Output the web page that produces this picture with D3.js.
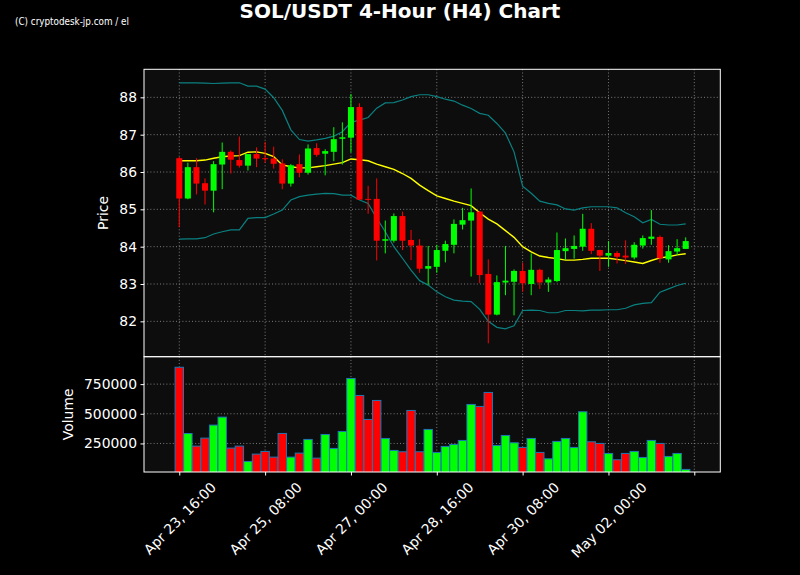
<!DOCTYPE html>
<html>
<head>
<meta charset="utf-8">
<script src="https://cdn.jsdelivr.net/npm/d3@7"></script>
<style>
  html, body { margin: 0; padding: 0; background: #000; }
  svg { display: block; }
</style>
</head>
<body>
<svg id="chart" width="800" height="575"></svg>
<script>
// ---------------- DATA ----------------
const titleText = "SOL/USDT 4-Hour (H4) Chart";
const watermark = "(C) cryptodesk-jp.com / el";

const opens = [86.37,85.29,86.13,85.70,85.50,86.20,86.54,86.32,86.17,86.48,
               86.37,86.36,86.23,85.69,86.21,85.98,86.64,86.49,86.54,86.89,
               86.92,87.74,85.28,85.28,84.16,84.16,84.82,84.18,84.03,83.41,
               83.46,83.89,84.05,84.59,84.70,84.94,83.27,82.18,83.04,83.06,
               83.35,83.00,83.38,83.04,83.08,83.88,83.94,84.00,84.48,83.91,
               83.76,83.83,83.76,83.71,84.03,84.21,84.26,83.66,83.87,83.94];
const highs = [86.40,86.25,86.37,85.83,86.29,86.79,86.58,86.95,86.48,86.66,
               86.81,86.68,86.34,86.21,86.47,86.74,86.77,86.61,87.20,87.33,
               88.09,87.84,85.63,85.83,84.70,84.89,84.94,84.45,84.20,84.02,
               84.05,84.16,84.73,85.04,85.56,84.95,83.66,83.23,84.02,83.39,
               83.57,83.82,83.41,83.18,84.38,84.22,84.30,84.88,84.63,83.92,
               84.15,83.88,84.17,84.12,84.30,84.98,84.30,84.04,84.20,84.25];
const lows  = [84.52,85.27,85.40,85.13,84.92,85.54,85.96,86.12,86.04,86.13,
               86.25,86.09,85.54,85.61,85.86,85.93,86.41,85.91,86.29,86.20,
               86.52,85.25,84.88,83.63,83.82,84.11,83.91,83.64,83.30,82.98,
               83.30,83.58,83.82,84.46,83.20,83.02,81.41,82.16,82.70,82.16,
               82.79,82.70,82.87,82.79,83.05,83.64,83.68,83.89,83.80,83.35,
               83.46,83.55,83.54,83.66,83.95,84.05,83.57,83.57,83.77,83.94];
const closes = [85.29,86.13,85.69,85.50,86.21,86.54,86.33,86.17,86.48,86.36,
                86.35,86.22,85.69,86.18,85.98,86.63,86.46,86.56,86.88,86.93,
                87.74,85.26,85.26,84.16,84.20,84.82,84.16,84.03,83.41,83.48,
                83.91,84.07,84.61,84.71,84.92,83.24,82.18,83.05,83.09,83.35,
                83.02,83.38,83.04,83.12,83.91,83.96,84.02,84.48,83.89,83.76,
                83.83,83.73,83.71,84.05,84.23,84.27,83.69,83.88,83.96,84.15];
const volumes = [892000,334000,227500,295000,404500,472000,210700,227500,98300,160100,
                 182600,134800,334300,134800,168500,283700,126400,325800,207900,351100,
                 797800,654500,452200,612400,292100,191000,179800,528100,179800,368000,
                 174200,224700,241600,275300,578700,561800,679800,233100,317400,255600,
                 216300,292100,174200,120800,266900,292100,216300,516900,264000,250000,
                 165700,112400,165700,182600,132000,275300,250000,140500,165700,30900];
// 20-period moving average (middle band) and Bollinger bands
const sma20 = [86.30,86.30,86.30,86.32,86.37,86.41,86.43,86.44,86.53,86.54,
               86.50,86.41,86.19,86.14,86.11,86.11,86.14,86.17,86.21,86.25,
               86.35,86.33,86.30,86.21,86.14,86.07,85.96,85.83,85.65,85.50,
               85.36,85.29,85.22,85.16,85.10,84.91,84.74,84.61,84.43,84.25,
               84.00,83.86,83.75,83.71,83.68,83.64,83.64,83.66,83.69,83.69,
               83.69,83.66,83.625,83.59,83.55,83.63,83.70,83.73,83.78,83.81];
const bbUpper = [88.39,88.39,88.39,88.38,88.37,88.38,88.39,88.39,88.30,88.30,
                 88.22,87.99,87.65,87.13,86.87,86.83,86.86,86.90,86.96,87.08,
                 87.33,87.39,87.46,87.71,87.85,87.86,87.93,88.02,88.07,88.07,
                 88.02,87.95,87.90,87.79,87.70,87.57,87.52,87.30,87.04,86.54,
                 85.62,85.43,85.22,85.16,85.12,85.01,84.98,85.04,85.07,85.07,
                 85.07,85.04,84.91,84.80,84.64,84.73,84.60,84.58,84.58,84.61];
const bbLower = [84.20,84.21,84.21,84.24,84.34,84.40,84.45,84.45,84.76,84.78,
                 84.78,84.875,84.98,85.25,85.34,85.38,85.41,85.43,85.42,85.38,
                 85.38,85.25,85.16,84.76,84.40,84.00,83.69,83.37,83.09,82.97,
                 82.79,82.66,82.57,82.54,82.53,82.32,82.00,81.84,81.80,81.88,
                 82.29,82.30,82.29,82.23,82.23,82.29,82.29,82.28,82.30,82.30,
                 82.31,82.31,82.35,82.44,82.48,82.50,82.78,82.87,82.96,83.02];

const xTickIndex  = [0, 10, 20, 30, 40, 50, 60];
const xTickLabels = ["Apr 23, 16:00", "Apr 25, 08:00", "Apr 27, 00:00", "Apr 28, 16:00",
                     "Apr 30, 08:00", "May 02, 00:00", ""];
const priceTicks  = [82, 83, 84, 85, 86, 87, 88];
const volumeTicks = [250000, 500000, 750000];

// ---------------- LAYOUT ----------------
const W = 800, H = 575;
const L = 144, R = 720.3;
const pTop = 69.3, pBot = 356.7, vTop = 356.7, vBot = 472;
const FONT = "'DejaVu Sans', sans-serif";
const FS = 13.9;

const svg = d3.select("#chart");
svg.append("rect").attr("width", W).attr("height", H).attr("fill", "#000");

const n = closes.length;
const idx = d3.range(n);
const x = d3.scaleLinear().domain([-4.11, 63.03]).range([L, R]);
const step = x(1) - x(0);
const yP = d3.scaleLinear().domain([81.053, 88.751]).range([pBot, pTop]);
const vMin = 0.3 * d3.min(volumes), vMax = 1.1 * d3.max(volumes);
const yV = d3.scaleLinear().domain([vMin, vMax]).range([vBot, vTop]);

const up = i => closes[i] >= opens[i];
const GREEN = "#00ff00", RED = "#ff0000";

// panel backgrounds
svg.append("rect").attr("x", L).attr("y", pTop).attr("width", R - L).attr("height", pBot - pTop).attr("fill", "#0d0d0d");
svg.append("rect").attr("x", L).attr("y", vTop).attr("width", R - L).attr("height", vBot - vTop).attr("fill", "#0d0d0d");

// clip paths
const defs = svg.append("defs");
defs.append("clipPath").attr("id", "clipP").append("rect").attr("x", L).attr("y", pTop).attr("width", R - L).attr("height", pBot - pTop);
defs.append("clipPath").attr("id", "clipV").append("rect").attr("x", L).attr("y", vTop).attr("width", R - L).attr("height", vBot - vTop);

// grids
const gridStyle = sel => sel.attr("stroke", "#a0a0a0").attr("stroke-width", 0.9).attr("stroke-dasharray", "1,2.2").attr("stroke-opacity", 0.85);
const grid = svg.append("g");
grid.selectAll(".hp").data(priceTicks).join("line")
  .attr("x1", L).attr("x2", R).attr("y1", d => yP(d)).attr("y2", d => yP(d)).call(gridStyle);
grid.selectAll(".hv").data(volumeTicks).join("line")
  .attr("x1", L).attr("x2", R).attr("y1", d => yV(d)).attr("y2", d => yV(d)).call(gridStyle);
grid.selectAll(".vp").data(xTickIndex).join("line")
  .attr("x1", d => x(d)).attr("x2", d => x(d)).attr("y1", pTop).attr("y2", pBot).call(gridStyle);
grid.selectAll(".vv").data(xTickIndex).join("line")
  .attr("x1", d => x(d)).attr("x2", d => x(d)).attr("y1", vTop).attr("y2", vBot).call(gridStyle);

// ---------------- PRICE PANEL ----------------
const gp = svg.append("g").attr("clip-path", "url(#clipP)");
const line = arr => d3.line().x(i => x(i)).y(i => yP(arr[i]))(idx);
gp.append("path").attr("d", line(bbUpper)).attr("fill", "none").attr("stroke", "#0b8080").attr("stroke-width", 1.2);
gp.append("path").attr("d", line(bbLower)).attr("fill", "none").attr("stroke", "#0b8080").attr("stroke-width", 1.2);
gp.append("path").attr("d", line(sma20)).attr("fill", "none").attr("stroke", "#ffff00").attr("stroke-width", 1.4);

// wicks
gp.selectAll(".wick").data(idx).join("line")
  .attr("x1", i => x(i)).attr("x2", i => x(i))
  .attr("y1", i => yP(highs[i])).attr("y2", i => yP(lows[i]))
  .attr("stroke", i => up(i) ? GREEN : RED).attr("stroke-width", 1);
// bodies
const bw = step * 0.7;
gp.selectAll(".body").data(idx).join("rect")
  .attr("x", i => x(i) - bw / 2)
  .attr("y", i => yP(Math.max(opens[i], closes[i])))
  .attr("width", bw)
  .attr("height", i => Math.max(1, Math.abs(yP(opens[i]) - yP(closes[i]))))
  .attr("fill", i => up(i) ? GREEN : RED);

// ---------------- VOLUME PANEL ----------------
const gv = svg.append("g").attr("clip-path", "url(#clipV)");
const vw = step * 0.98;
gv.selectAll(".vol").data(idx).join("rect")
  .attr("x", i => x(i) - vw / 2)
  .attr("y", i => yV(volumes[i]))
  .attr("width", vw)
  .attr("height", i => vBot - yV(volumes[i]) + 2)
  .attr("fill", i => up(i) ? GREEN : RED)
  .attr("stroke", "#1f77b4").attr("stroke-width", 1);

// ---------------- AXES ----------------
const styleAxis = g => {
  g.select(".domain").remove();
  g.selectAll(".tick line").attr("stroke", "#fff").attr("stroke-width", 1);
  g.selectAll(".tick text").attr("fill", "#fff").attr("font-family", FONT).attr("font-size", FS);
};
svg.append("g").attr("transform", `translate(${L},0)`)
  .call(d3.axisLeft(yP).tickValues(priceTicks).tickFormat(d3.format("d")).tickSize(3.5).tickPadding(3.5))
  .call(styleAxis);
svg.append("g").attr("transform", `translate(${L},0)`)
  .call(d3.axisLeft(yV).tickValues(volumeTicks).tickFormat(d3.format("d")).tickSize(3.5).tickPadding(3.5))
  .call(styleAxis);
const xa = svg.append("g").attr("transform", `translate(0,${vBot})`)
  .call(d3.axisBottom(x).tickValues(xTickIndex).tickFormat((d, k) => xTickLabels[k]).tickSize(3.5).tickPadding(3.5))
  .call(styleAxis);
xa.selectAll(".tick text").each(function () {
  const t = d3.select(this);
  const len = this.getComputedTextLength();
  const hgt = FS * 1.17;
  const bh = (len + hgt) * Math.SQRT1_2;
  t.attr("text-anchor", "middle").attr("dy", null).attr("y", null)
   .attr("dominant-baseline", "central")
   .attr("transform", `translate(0,${7 + bh / 2}) rotate(-45)`);
});

// spines
svg.append("rect").attr("x", L).attr("y", pTop).attr("width", R - L).attr("height", pBot - pTop)
  .attr("fill", "none").attr("stroke", "#fff").attr("stroke-width", 1);
svg.append("rect").attr("x", L).attr("y", vTop).attr("width", R - L).attr("height", vBot - vTop)
  .attr("fill", "none").attr("stroke", "#fff").attr("stroke-width", 1);

// axis labels
svg.append("text").text("Price")
  .attr("transform", `translate(108,${(pTop + pBot) / 2}) rotate(-90)`)
  .attr("text-anchor", "middle").attr("fill", "#fff").attr("font-family", FONT).attr("font-size", FS);
svg.append("text").text("Volume")
  .attr("transform", `translate(73,${(vTop + vBot) / 2}) rotate(-90)`)
  .attr("text-anchor", "middle").attr("fill", "#fff").attr("font-family", FONT).attr("font-size", FS);

// title & watermark
svg.append("text").text(titleText)
  .attr("x", 400).attr("y", 18).attr("text-anchor", "middle")
  .attr("fill", "#fff").attr("font-family", FONT).attr("font-weight", "bold").attr("font-size", 20);
svg.append("text").text(watermark)
  .attr("x", 15).attr("y", 25)
  .attr("fill", "#fff").attr("font-family", "'Liberation Sans Narrow', 'DejaVu Sans Condensed', sans-serif")
  .attr("font-size", 10.5).attr("textLength", 114).attr("lengthAdjust", "spacingAndGlyphs");
</script>
</body>
</html>
